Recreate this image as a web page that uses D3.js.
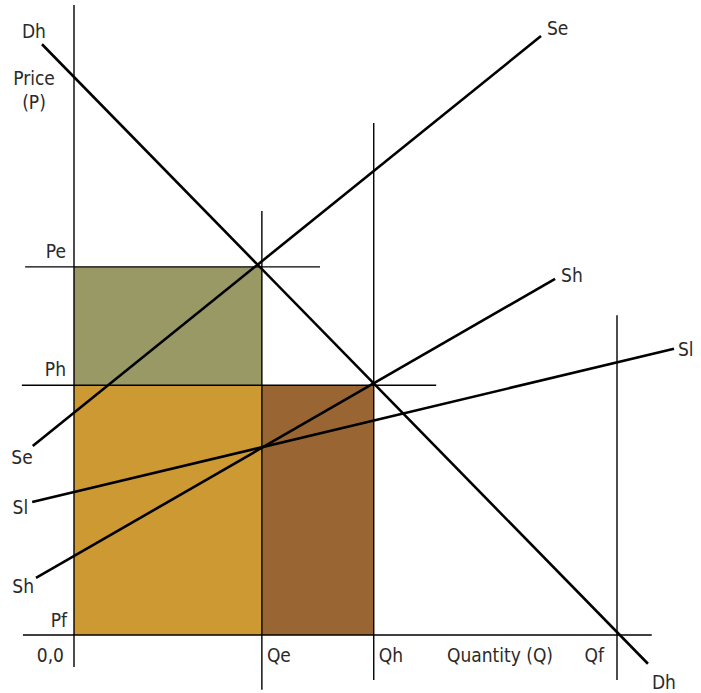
<!DOCTYPE html>
<html><head><meta charset="utf-8">
<script src="https://cdn.jsdelivr.net/npm/d3@7"></script>
<style>
html,body{margin:0;padding:0;background:#fff;}
text{font-family:"DejaVu Sans","Noto Sans",sans-serif;font-stretch:condensed;font-size:19px;fill:#2a2a2a;}
</style></head>
<body>
<svg id="c" width="701" height="693"></svg>
<script>
// Values (quantity on x, price on y; axis units 0..100)
const priceLevels = [{name:"Pe", p:67.8, q0:-9.0, q1:45.3},
                     {name:"Ph", p:46.0, q0:-9.6, q1:66.7}];
const quantityLevels = [{name:"Qe", q:34.6, p0:78.1, p1:-10.1},
                        {name:"Qh", q:55.2, p0:94.3, p1:-8.3},
                        {name:"Qf", q:100,  p0:58.9, p1:-8.3}];
const areas = [{name:"green",  q0:0,    q1:34.6, p0:46.0, p1:67.8, color:"#999966"},
               {name:"orange", q0:0,    q1:34.6, p0:0,    p1:46.0, color:"#cc9933"},
               {name:"brown",  q0:34.6, q1:55.2, p0:0,    p1:46.0, color:"#996633"}];
const curveNames = ["Dh","Se","Sh","Sl"];
const curveStart = [[-5.9,108.8],[-7.6,34.8],[-7.0,10.5],[-7.7,24.5]];
const curveEnd   = [[105.7,-5.3],[86.0,110.3],[88.6,65.6],[110.5,52.7]];
const axisY = {q:0, p0:116, p1:-5.9};
const axisX = {p:0, q0:-9.4, q1:106.4};

const svg = d3.select("#c");
const x = d3.scaleLinear().domain([0,100]).range([74,617]);
const y = d3.scaleLinear().domain([0,100]).range([635,92]);

// shaded areas
svg.selectAll("rect.area").data(areas).enter().append("rect")
  .attr("x", d=>x(d.q0)).attr("y", d=>y(d.p1))
  .attr("width", d=>x(d.q1)-x(d.q0)).attr("height", d=>y(d.p0)-y(d.p1))
  .attr("fill", d=>d.color);

const thin = 1.4;
// axes
svg.append("line").attr("x1",x(axisY.q)).attr("x2",x(axisY.q)).attr("y1",y(axisY.p0)).attr("y2",y(axisY.p1))
  .attr("stroke","#000").attr("stroke-width",thin);
svg.append("line").attr("x1",x(axisX.q0)).attr("x2",x(axisX.q1)).attr("y1",y(axisX.p)).attr("y2",y(axisX.p))
  .attr("stroke","#000").attr("stroke-width",thin);
// guide lines
svg.selectAll("line.pl").data(priceLevels).enter().append("line")
  .attr("x1",d=>x(d.q0)).attr("x2",d=>x(d.q1)).attr("y1",d=>y(d.p)).attr("y2",d=>y(d.p))
  .attr("stroke","#000").attr("stroke-width",thin);
svg.selectAll("line.ql").data(quantityLevels).enter().append("line")
  .attr("x1",d=>x(d.q)).attr("x2",d=>x(d.q)).attr("y1",d=>y(d.p0)).attr("y2",d=>y(d.p1))
  .attr("stroke","#000").attr("stroke-width",thin);

// supply and demand curves
const line = d3.line().x(d=>x(d[0])).y(d=>y(d[1]));
svg.selectAll("path.curve").data(curveNames).enter().append("path")
  .attr("d",(d,i)=>line([curveStart[i],curveEnd[i]]))
  .attr("fill","none").attr("stroke","#000").attr("stroke-width",2.6);

// labels
function label(t, px, py, anchor){
  svg.append("text").attr("x",px).attr("y",py).attr("text-anchor",anchor||"start").text(t);
}
const startOff = [[-20,-6,"start"],[0,18,"end"],[-2,15,"end"],[-4,12,"end"]];
const endOff   = [[4,25,"start"],[6,-1,"start"],[6,3,"start"],[4,7,"start"]];
curveNames.forEach((n,i)=>{
  label(n, x(curveStart[i][0])+startOff[i][0], y(curveStart[i][1])+startOff[i][1], startOff[i][2]);
  label(n, x(curveEnd[i][0])+endOff[i][0], y(curveEnd[i][1])+endOff[i][1], endOff[i][2]);
});
label("Price", x(0)-40, 85, "middle");
label("(P)", x(0)-40, 109, "middle");
priceLevels.forEach(d=>label(d.name, x(0)-8, y(d.p)-9, "end"));
label("Pf", x(0)-7, y(0)-8, "end");
label("0,0", x(0)-10, y(0)+27, "end");
quantityLevels.forEach(d=>{
  if(d.name==="Qf") label(d.name, x(d.q)-13, y(0)+27, "end");
  else label(d.name, x(d.q)+5, y(0)+27, "start");
});
label("Quantity (Q)", 500, y(0)+27, "middle");
</script>
</body></html>
